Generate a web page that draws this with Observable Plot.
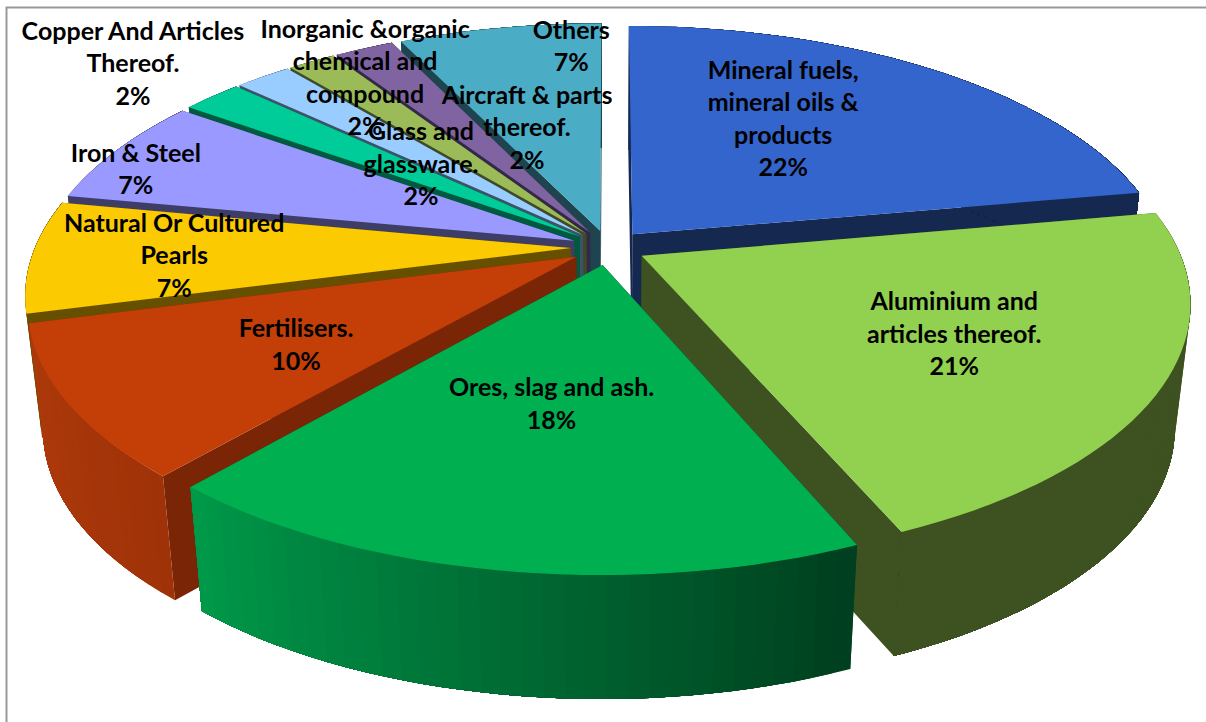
<!DOCTYPE html>
<html><head><meta charset="utf-8">
<script src="https://cdn.jsdelivr.net/npm/d3@7"></script>
<script src="https://cdn.jsdelivr.net/npm/@observablehq/plot@0.6"></script>
<style>html,body{margin:0;padding:0;background:#fff}svg{display:block}</style>
</head><body><div id="chart"></div>
<script>
const names = ["Mineral fuels,\nmineral oils &\nproducts","Aluminium and\narticles thereof.","Ores, slag and ash.","Fertilisers.","Natural Or Cultured\nPearls","Iron & Steel","Copper And Articles\nThereof.","Glass and\nglassware.","Inorganic &organic\nchemical and\ncompound","Aircraft & parts\nthereof.","Others"];
const shares = [22.2,21.35,17.85,9.55,7.05,6.85,2.15,2,1.7,2.1,7.2];
const topColors = ["#3465CC","#92D050","#00B050","#C43E07","#FCCA00","#9999FF","#00CC99","#99CCFF","#9BBB59","#8064A2","#4BACC6"];
const faceColors = ["#152850","#3D5220","#004A22","#7A2505","#665000","#3D3D66","#005A40","#3D5266","#3E4B24","#33284A","#1E454F"];
const wallStart = ["#152850","#3D5220","#003E1E","#A03208","#665000","#3D3D66","#005A40","#3D5266","#3E4B24","#33284A","#1E454F"];
const wallEnd = ["#152850","#3D5220","#009A4A","#AE3A0A","#665000","#3D3D66","#005A40","#3D5266","#3E4B24","#33284A","#1E454F"];
// labelNudge: offset of each label from its slice's bisector point
const labelNudge = [[-37,-13],[11,1],[6,-32],[13,2],[-74,1],[-157,-17],[-217,-87],[39,27],[-48,-49],[80,10],[35,-57]];

// pie geometry in view units
const view = {cx:608, cy:247, rx:536, ry:249, persp:0.175, explode:0.07, depth:124, shrink:0.973, labelR:0.6};
const total = d3.sum(shares);
let acc = 0;
const slices = shares.map((v,i)=>{
  const a0 = acc/total*2*Math.PI; acc += v; const a1 = acc/total*2*Math.PI;
  return {i, a0, a1, mid:(a0+a1)/2};
});
function project(s, ang, rho, low){
  const X = view.explode*Math.sin(s.mid)+rho*Math.sin(ang);
  const Y = -(view.explode*Math.cos(s.mid)+rho*Math.cos(ang));
  const w = 1-view.persp*Y;
  let x = view.cx+view.rx*X/w, y = view.cy+view.ry*Y/w;
  if(low){ x = view.cx+(x-view.cx)*view.shrink; y += view.depth; }
  return [x,y];
}
const polys = [];
let pid = 0;
function addPoly(points,color){
  const id = pid++;
  const closed = [...points, points[0]];
  closed.forEach(([x,y])=>polys.push({id,x,y,color}));
}
const order = [...slices].sort((a,b)=>(-Math.cos(a.mid))-(-Math.cos(b.mid)));
for(const s of order){
  const n = Math.max(6,Math.round((s.a1-s.a0)*30));
  const angles = d3.range(n+1).map(j=>s.a0+(s.a1-s.a0)*j/n);
  for(const ang of [s.a0,s.a1]){
    addPoly([project(s,0,0,false),project(s,ang,1,false),project(s,ang,1,true),project(s,0,0,true)],faceColors[s.i]);
  }
  const mix = d3.interpolateRgb(wallStart[s.i],wallEnd[s.i]);
  // each wall strip reaches to the slice's far end and is overpainted by the next, so no seams show
  for(let j=0;j<n;j++){
    const span = angles.slice(j);
    addPoly([...span.map(a=>project(s,a,1,false)),...span.reverse().map(a=>project(s,a,1,true))],d3.rgb(mix((j+.5)/n)).formatHex());
  }
  addPoly([project(s,0,0,false),...angles.map(a=>project(s,a,1,false))],topColors[s.i]);
}
const labels = slices.map(s=>{
  const [x,y] = project(s,s.mid,view.labelR,false);
  return {x:x, y:y, dx:labelNudge[s.i][0], dy:labelNudge[s.i][1], text:names[s.i]+"\n"+Math.round(shares[s.i])+"%"};
});
const chart = Plot.plot({
  width:1206, height:722, margin:0,
  x:{domain:[0,1206],range:[0,1206],axis:null},
  y:{domain:[0,722],range:[0,722],axis:null},
  color:{type:"identity"},
  style:{background:"#fff"},
  marks:[
    Plot.frame({stroke:"#999",strokeWidth:2,insetLeft:6,insetTop:7,insetRight:-10,insetBottom:-10}),
    Plot.line(polys,{x:"x",y:"y",z:"id",fill:"color",stroke:"none",curve:"linear"}),
    ...labels.map(l=>Plot.text([l],{x:"x",y:"y",text:"text",dx:l.dx,dy:l.dy,fontFamily:"Lato",fontWeight:700,fontSize:25,lineHeight:1.3,fill:"#000",textAnchor:"middle",lineAnchor:"middle"}))
  ]
});
document.getElementById("chart").append(chart);
</script></body></html>
